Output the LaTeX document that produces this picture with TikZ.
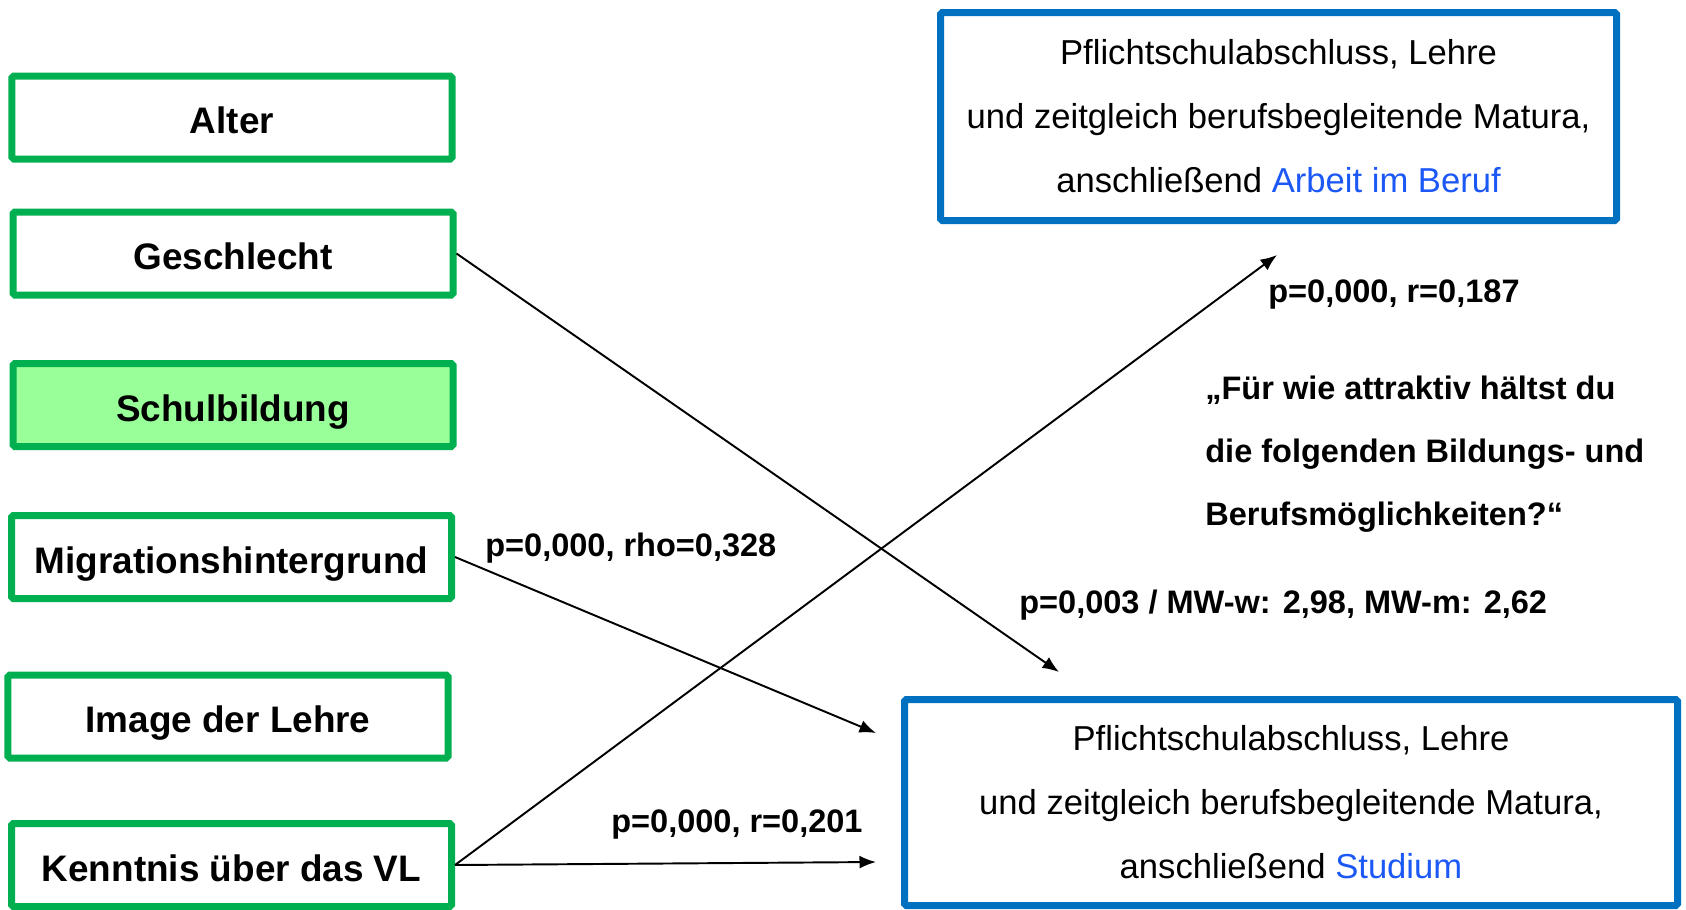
\documentclass[tikz,border=0pt]{standalone}
\usepackage{fontspec}
\setmainfont{Liberation Sans}
\usepackage{xcolor}
\usepackage{tikz}
\usetikzlibrary{arrows.meta,positioning}
\definecolor{vgreen}{RGB}{0,176,80}
\definecolor{vlight}{RGB}{153,255,153}
\definecolor{oblue}{RGB}{0,112,192}
\definecolor{tblue}{RGB}{28,88,245}

\begin{document}
\begin{tikzpicture}[
  v/.style={draw=vgreen,line width=0.14cm,rounded corners=1pt,minimum width=8.8cm,minimum height=1.66cm,text height=22pt,text depth=3.3pt,font=\bfseries\fontsize{21}{25}\selectfont},
  o/.style={draw=oblue,line width=0.14cm,rounded corners=1pt,align=center,font=\fontsize{19.7}{36.4}\selectfont},
  l/.style={anchor=west,align=left,font=\bfseries\fontsize{18.5}{35.8}\selectfont,inner sep=0pt},
  e/.style={-{Latex[length=3.3mm,width=2.6mm]},line width=1.1pt}]
 \useasboundingbox (0,0) rectangle (33.72,-18.18);
 \node[v] (alt) at (4.64,-2.35) {Alter};
 \node[v] (ges) at (4.66,-5.07) {Geschlecht};
 \node[v,fill=vlight] (sch) at (4.66,-8.10) {Schulbildung};
 \node[v] (mig) at (4.63,-11.14) {Migrationshintergrund};
 \node[v] (img) at (4.56,-14.33) {Image der Lehre};
 \node[v] (ken) at (4.63,-17.30) {Kenntnis über das VL};
 \node[o,minimum width=13.52cm,minimum height=4.16cm] (beruf) at (25.57,-2.33) {Pflichtschulabschluss, Lehre\\ und zeitgleich berufsbegleitende Matura,\\ anschließend \textcolor{tblue}{Arbeit im Beruf}};
 \node[o,minimum width=15.46cm,minimum height=4.12cm] (stud) at (25.82,-16.05) {Pflichtschulabschluss, Lehre\\ und zeitgleich berufsbegleitende Matura,\\ anschließend \textcolor{tblue}{Studium}};
 \node[l] (q) at (24.10,-9.09) {„Für wie attraktiv hältst du\\ die folgenden Bildungs- und\\ Berufsmöglichkeiten?“};
 \node[l] (r187) at (25.36,-5.89) {p=0,000, r=0,187};
 \node[l] (rho) at (9.70,-10.96) {p=0,000, rho=0,328};
 \node[l] (mw) at (20.38,-12.10) {p=0,003 / MW-w: 2,98, MW-m: 2,62};
 \node[l] (r201) at (12.22,-16.50) {p=0,000, r=0,201};
 \coordinate (c1) at (21.18,-13.44); \coordinate (c2) at (17.52,-14.66);
 \coordinate (c3) at (25.54,-5.10); \coordinate (c4) at (17.52,-17.24);
 \draw[e] (ges.east) -- (c1); \draw[e] (mig.east) -- (c2);
 \draw[e] (ken.east) -- (c3); \draw[e] (ken.east) -- (c4);
\end{tikzpicture}
\end{document}
